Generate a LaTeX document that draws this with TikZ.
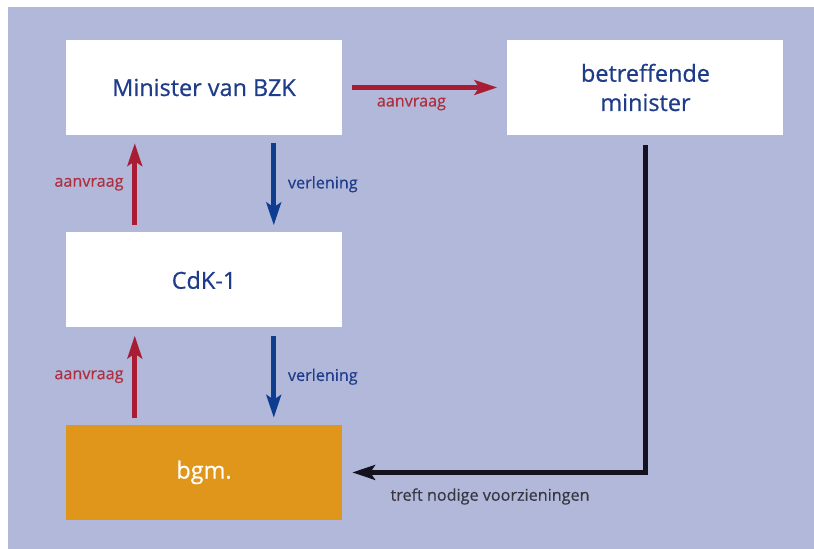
\documentclass[tikz,border=0pt]{standalone}
\usepackage{fontspec}
\setmainfont{Open Sans}
\newfontfamily\blokfont[FakeBold=0.6]{Open Sans}
\newfontfamily\labfont[FakeBold=0.4]{Open Sans}
\usetikzlibrary{arrows.meta,positioning}
\definecolor{bgl}{HTML}{B1B8D9}
\definecolor{ink}{HTML}{1F3C8A}
\definecolor{arrb}{HTML}{0E3C8E}
\definecolor{arrr}{HTML}{A91D34}
\definecolor{txtr}{HTML}{AE2F3F}
\definecolor{oranj}{HTML}{E0961A}
\definecolor{zwart}{HTML}{14121F}
\tikzset{
  blok/.style={fill=white,draw=none,minimum width=82.8mm,minimum height=28.5mm,inner sep=0pt,
    font=\blokfont\fontsize{20}{25}\selectfont,text=ink,align=center},
  oblok/.style={blok,fill=oranj,text=white},
  rarr/.style={-{Stealth[length=6.8mm,width=4.4mm,inset=1.4mm]},draw=arrr,line width=3.9pt},
  barr/.style={rarr,draw=arrb},
  zarr/.style={rarr,draw=zwart,line width=4pt,line join=miter},
  rlab/.style={font=\labfont\fontsize{13.8}{16}\selectfont,text=txtr},
  blab/.style={rlab,text=ink},
  zlab/.style={rlab,text=zwart!85},
}
\begin{document}
\begin{tikzpicture}[x=0.3mm,y=-0.3mm]
\useasboundingbox (0,0) rectangle (814,549);
\fill[bgl] (8,7) rectangle (814,549);
\node[blok] (bzk) at (204,87.5) {Minister van BZK};
\node[blok,right=49.5mm of bzk] (betr) {betreffende\\minister};
\node[blok,below=29.1mm of bzk] (cdk) {CdK-1};
\node[oblok,below=29.1mm of cdk] (bgm) {bgm.};
% aanvragen omhoog, verlening omlaag
\draw[rarr] ([xshift=3mm]bzk.east) -- ([xshift=-3mm]betr.west)
  node[rlab,midway,below=1.2mm,xshift=-4mm] (av0) {aanvraag};
\draw[rarr] ([xshift=20.7mm,yshift=2.1mm]cdk.north west) -- ([xshift=20.7mm,yshift=-2.4mm]bzk.south west)
  node[rlab,midway,left=1.5mm] (av1) {aanvraag};
\draw[barr] ([xshift=62.4mm,yshift=-2.4mm]bzk.south west) -- ([xshift=62.4mm,yshift=2.1mm]cdk.north west)
  node[blab,midway,right=2.4mm] (vl1) {verlening};
\draw[rarr] ([xshift=20.7mm,yshift=2.1mm]bgm.north west) -- ([xshift=20.7mm,yshift=-2.4mm]cdk.south west)
  node[rlab,midway,left=1.5mm] (av2) {aanvraag};
\draw[barr] ([xshift=62.4mm,yshift=-2.4mm]cdk.south west) -- ([xshift=62.4mm,yshift=2.1mm]bgm.north west)
  node[blab,midway,right=2.4mm] (vl2) {verlening};
\draw[zarr] ([yshift=-3mm]betr.south) |- ([xshift=3mm]bgm.east)
  node[zlab,pos=0.765,below=2.9mm] (tv) {treft nodige voorzieningen};
\end{tikzpicture}
\end{document}
